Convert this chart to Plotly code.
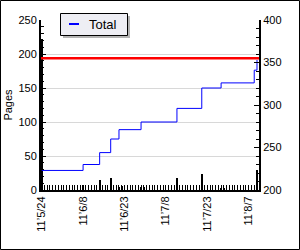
import plotly.graph_objects as go

# Daily pages (bars, left axis)
bar_dates = ["2011-05-24", "2011-06-08", "2011-06-14", "2011-06-18", "2011-06-21", "2011-06-22",
             "2011-06-29", "2011-06-30", "2011-07-12", "2011-07-21", "2011-07-28", "2011-07-29",
             "2011-08-10"]
bar_values = [222, 7, 15, 18, 5, 6, 5, 4, 17, 24, 3, 3, 30]

# Cumulative total (step line, right axis)
total_dates = ["2011-05-24", "2011-06-08", "2011-06-14", "2011-06-18", "2011-06-21",
               "2011-06-29", "2011-07-12", "2011-07-21", "2011-07-28", "2011-08-09", "2011-08-10"]
total_values = [223, 230, 244, 260, 271, 280, 296, 320, 326, 341, 353]

# Target line (right axis)
target_dates = ["2011-05-23 18:00", "2011-08-10 18:00"]
target_values = [355, 355]

tick_dates = ["2011-05-24", "2011-06-08", "2011-06-23", "2011-07-08", "2011-07-23", "2011-08-07"]
tick_text = ["11\u20195/24", "11\u20196/8", "11\u20196/23", "11\u20197/8", "11\u20197/23", "11\u20198/7"]

FONT = "Liberation Sans"
DAY_MS = 86400000

fig = go.Figure()
fig.add_trace(go.Bar(x=bar_dates, y=bar_values, marker=dict(color="black", line=dict(width=0)),
                     width=0.75 * DAY_MS, showlegend=False, yaxis="y"))
fig.add_trace(go.Scatter(x=target_dates, y=target_values, mode="lines",
                         line=dict(color="#ff0000", width=2.5), showlegend=False, yaxis="y2"))
fig.add_trace(go.Scatter(x=total_dates, y=total_values, mode="lines", name="Total",
                         line=dict(color="#0000ff", width=1, shape="hv"), yaxis="y2",
                         showlegend=False))

W, H = 300, 250
L, R, T, B = 41, 41, 20, 60
pw, ph = W - L - R, H - T - B

def px_x(x):
    return (x - L) / pw

def px_y(y):
    return (H - B - y) / ph

fig.update_layout(
    width=W, height=H,
    margin=dict(l=L, r=R, t=T, b=B, autoexpand=False),
    paper_bgcolor="white", plot_bgcolor="white",
    font=dict(family=FONT, size=11, color="black"),
    bargap=0,
    showlegend=False,
    xaxis=dict(
        type="date",
        range=["2011-05-23 18:00", "2011-08-10 17:30"],
        tickmode="array", tickvals=tick_dates, ticktext=tick_text,
        tickangle=-90, ticks="inside", ticklen=5, tickcolor="black", tickwidth=1,
        minor=dict(ticks="inside", ticklen=5, tickcolor="black", tickwidth=1,
                   dtick=DAY_MS, tick0="2011-05-24", showgrid=False),
        showline=True, linecolor="black", linewidth=2,
        showgrid=False, zeroline=False,
        tickfont=dict(family=FONT, size=11),
    ),
    yaxis=dict(
        range=[0, 250], dtick=50, tick0=0,
        ticks="inside", ticklen=5, tickcolor="black", tickwidth=1,
        minor=dict(ticks="inside", ticklen=3, tickcolor="black", dtick=10, showgrid=False),
        showline=True, linecolor="black", linewidth=2,
        showgrid=True, gridcolor="#d8d8d8", gridwidth=1, zeroline=False,
        title=dict(text="Pages", font=dict(family=FONT, size=11), standoff=4),
        tickfont=dict(family=FONT, size=11),
    ),
    yaxis2=dict(
        overlaying="y", side="right", anchor="x",
        range=[200, 400], dtick=50, tick0=200,
        ticks="inside", ticklen=5, tickcolor="black", tickwidth=1,
        minor=dict(ticks="inside", ticklen=3, tickcolor="black", dtick=10, showgrid=False),
        showline=True, linecolor="black", linewidth=2,
        showgrid=False, zeroline=False,
        tickfont=dict(family=FONT, size=11),
    ),
    shapes=[
        # legend shadow
        dict(type="rect", xref="paper", yref="paper",
             x0=px_x(63), x1=px_x(130), y0=px_y(16), y1=px_y(38),
             fillcolor="#b4b4b4", line=dict(width=0), layer="above"),
        # legend box
        dict(type="rect", xref="paper", yref="paper",
             x0=px_x(60.5), x1=px_x(127.5), y0=px_y(13.5), y1=px_y(35.5),
             fillcolor="#eeeef4", line=dict(color="black", width=1), layer="above"),
        # legend sample line
        dict(type="line", xref="paper", yref="paper",
             x0=px_x(69), x1=px_x(79), y0=px_y(24), y1=px_y(24),
             line=dict(color="#0000ff", width=2), layer="above"),
        # outer border
        dict(type="rect", xref="paper", yref="paper",
             x0=px_x(0.5), x1=px_x(W - 0.5), y0=px_y(0.5), y1=px_y(H - 0.5),
             fillcolor="rgba(0,0,0,0)", line=dict(color="black", width=1), layer="above"),
    ],
    annotations=[
        dict(text="Total", xref="paper", yref="paper", x=px_x(87), y=px_y(24.5),
             xanchor="left", yanchor="middle", showarrow=False,
             font=dict(family=FONT, size=13, color="black")),
    ],
)

fig.write_html("out.html")
